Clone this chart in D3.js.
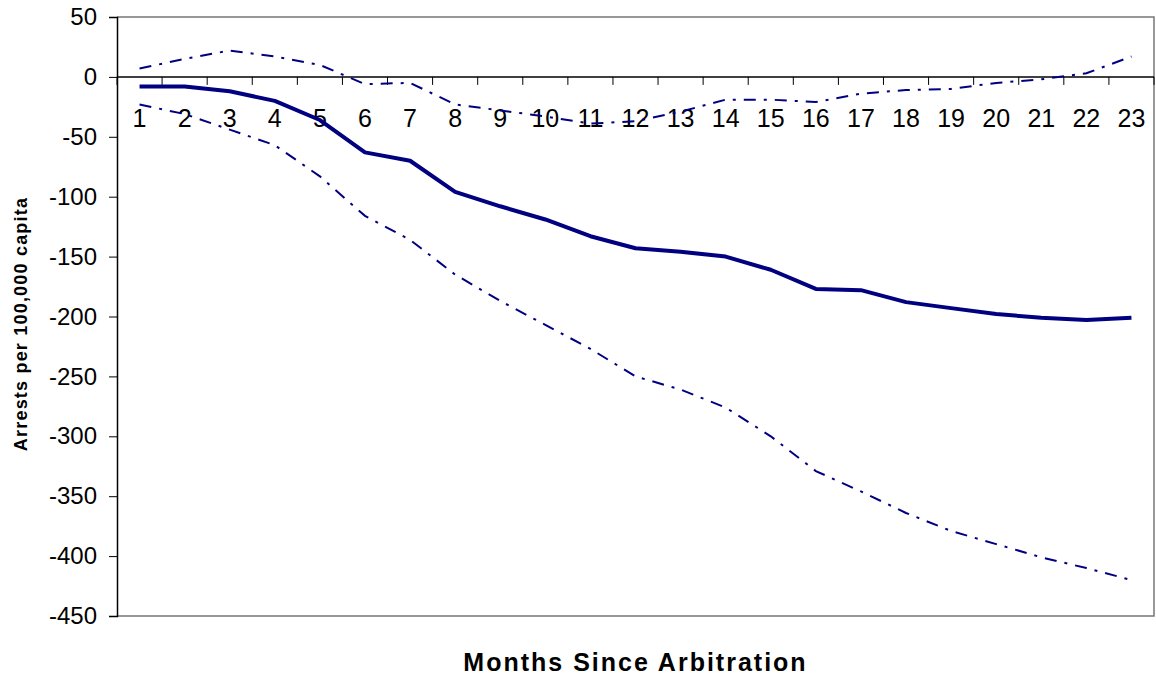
<!DOCTYPE html>
<html>
<head>
<meta charset="utf-8">
<script src="https://cdn.jsdelivr.net/npm/d3@7"></script>
<style>
  body { margin: 0; background: #fff; }
  svg { display: block; font-family: "Liberation Sans", Arial, sans-serif; }
</style>
</head>
<body>
<svg id="chart"></svg>
<script>
// months since arbitration
const months = d3.range(1, 24).map(String);

// estimated effect (solid) and confidence bounds (dash-dot)
const estimate = [-8, -8, -12, -20, -36, -63, -70, -96, -108, -119, -133, -143, -146, -150, -161, -177, -178, -188, -193, -198, -201, -203, -201];
const upperBound = [7, 15, 22, 17, 10, -6, -5, -23, -28, -33, -39, -37, -29, -19, -19, -21, -14, -11, -10, -5, -2, 3, 17];
const lowerBound = [-23, -31, -44, -57, -83, -116, -136, -165, -187, -207, -227, -250, -261, -276, -300, -329, -346, -364, -379, -390, -401, -410, -420];

const yTicks = [50, 0, -50, -100, -150, -200, -250, -300, -350, -400, -450];

const [w, h] = [1156, 676];
const margin = {left: 117, right: 2, top: 17, bottom: 60};

const svg = d3.select("#chart").attr("width", w).attr("height", h);

const xScale = d3.scaleBand().domain(months).range([margin.left, w - margin.right]);
const yScale = d3.scaleLinear().domain([-450, 50]).range([h - margin.bottom, margin.top]);

const x0 = xScale.range()[0], x1 = xScale.range()[1];
const yTop = yScale(50), yBot = yScale(-450);

// plot frame (grey top, right, bottom)
svg.append("path")
  .attr("d", `M${x0},${yTop}H${x1}V${yBot}H${x0}`)
  .attr("fill", "none").attr("stroke", "#777").attr("stroke-width", 1.5);

// y axis (plain hyphen for negatives, like the original)
const yAxis = d3.axisLeft(yScale).tickValues(yTicks).tickSize(8).tickPadding(12)
  .tickFormat(d => String(d));
const gy = svg.append("g").attr("transform", `translate(${x0},0)`).call(yAxis);
gy.select(".domain").attr("stroke", "#000").attr("stroke-width", 1.5);
gy.selectAll(".tick line").attr("stroke", "#000").attr("stroke-width", 1);
gy.selectAll(".tick text").attr("font-size", 24).attr("fill", "#000")
  .attr("font-family", "'Liberation Sans', Arial, sans-serif");

// x axis at zero, ticks between categories
const y0 = yScale(0);
const gx = svg.append("g").attr("transform", `translate(0,${y0})`);
gx.append("line").attr("x1", x0).attr("x2", x1).attr("stroke", "#000").attr("stroke-width", 1.5);
const bounds = months.map(m => xScale(m)).concat([x1]);
gx.selectAll("line.tk").data(bounds).enter().append("line")
  .attr("class", "tk")
  .attr("x1", d => d).attr("x2", d => d).attr("y1", 0).attr("y2", 8)
  .attr("stroke", "#000").attr("stroke-width", 1);
gx.selectAll("text").data(months).enter().append("text")
  .attr("x", d => xScale(d) + xScale.bandwidth() / 2)
  .attr("y", 50)
  .attr("text-anchor", "middle")
  .attr("font-size", 25)
  .attr("fill", "#000")
  .text(d => d);

// lines
const line = d3.line()
  .x((d, i) => xScale(months[i]) + xScale.bandwidth() / 2)
  .y(d => yScale(d));

const navy = "#000080";
svg.append("path").datum(upperBound).attr("d", line)
  .attr("fill", "none").attr("stroke", navy).attr("stroke-width", 2)
  .attr("stroke-dasharray", "12,8,3,8");
svg.append("path").datum(lowerBound).attr("d", line)
  .attr("fill", "none").attr("stroke", navy).attr("stroke-width", 2)
  .attr("stroke-dasharray", "12,8,3,8");
svg.append("path").datum(estimate).attr("d", line)
  .attr("fill", "none").attr("stroke", navy).attr("stroke-width", 4)
  .attr("stroke-linejoin", "round");

// axis titles
svg.append("text")
  .attr("x", (x0 + x1) / 2).attr("y", 671)
  .attr("text-anchor", "middle")
  .attr("font-size", 25).attr("font-weight", "bold")
  .attr("letter-spacing", 2)
  .text("Months Since Arbitration");

svg.append("text")
  .attr("transform", `translate(27,324) rotate(-90)`)
  .attr("text-anchor", "middle")
  .attr("font-size", 18).attr("font-weight", "bold")
  .attr("letter-spacing", 1.2)
  .text("Arrests per 100,000 capita");
</script>
</body>
</html>
